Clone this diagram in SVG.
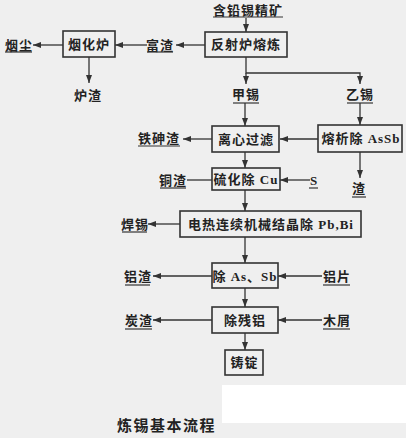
<svg xmlns="http://www.w3.org/2000/svg" width="406" height="438" viewBox="0 0 406 438">
<style>
.t{font-family:"Liberation Serif","Noto Sans CJK SC",serif;font-size:13px;font-weight:bold;fill:#222;text-anchor:middle;letter-spacing:1px}
.b{fill:none;stroke:#333;stroke-width:1.6}
.c line,.c polyline{fill:none;stroke:#333;stroke-width:1.3}
.u{stroke:#333;stroke-width:1.2}
.ttl{font-family:"Noto Sans CJK SC",sans-serif;font-size:15px;font-weight:bold;fill:#222;letter-spacing:1.5px}
</style>
<defs>
<marker id="a" viewBox="0 0 8 6" refX="8" refY="3" markerWidth="8" markerHeight="6" markerUnits="userSpaceOnUse" orient="auto">
<path d="M0,0 L8,3 L0,6 z" fill="#333"/>
</marker>
</defs>
<rect width="406" height="438" fill="#efefef"/>
<rect x="222" y="385" width="184" height="38" fill="#ffffff"/>
<g class="c" id="connectors">
<line x1="246" y1="18" x2="246" y2="32" marker-end="url(#a)"/>
<line x1="205" y1="45" x2="176" y2="45" marker-end="url(#a)"/>
<line x1="147" y1="45" x2="115" y2="45" marker-end="url(#a)"/>
<line x1="63" y1="45" x2="33" y2="45" marker-end="url(#a)"/>
<line x1="89" y1="57" x2="89" y2="83" marker-end="url(#a)"/>
<polyline points="246,57 246,73 360,73 360,84" marker-end="url(#a)"/>
<line x1="246" y1="73" x2="246" y2="84" marker-end="url(#a)"/>
<line x1="245" y1="103" x2="245" y2="126" marker-end="url(#a)"/>
<line x1="360" y1="103" x2="360" y2="125" marker-end="url(#a)"/>
<line x1="318" y1="139" x2="280" y2="139" marker-end="url(#a)"/>
<line x1="212" y1="139" x2="183" y2="139" marker-end="url(#a)"/>
<line x1="360" y1="152" x2="360" y2="178" marker-end="url(#a)"/>
<line x1="245" y1="152" x2="245" y2="168" marker-end="url(#a)"/>
<line x1="310" y1="180" x2="280" y2="180" marker-end="url(#a)"/>
<line x1="212" y1="180" x2="187" y2="180"/>
<line x1="245" y1="190" x2="245" y2="211" marker-end="url(#a)"/>
<line x1="180" y1="224" x2="148" y2="224" marker-end="url(#a)"/>
<line x1="245" y1="237" x2="245" y2="263" marker-end="url(#a)"/>
<line x1="212" y1="276" x2="153" y2="276" marker-end="url(#a)"/>
<line x1="322" y1="276" x2="278" y2="276" marker-end="url(#a)"/>
<line x1="245" y1="288" x2="245" y2="307" marker-end="url(#a)"/>
<line x1="212" y1="320" x2="153" y2="320" marker-end="url(#a)"/>
<line x1="322" y1="320" x2="278" y2="320" marker-end="url(#a)"/>
<line x1="245" y1="333" x2="245" y2="350" marker-end="url(#a)"/>
</g>
<g id="n-ore"><text class="t" x="248" y="14.5">含铅锡精矿</text><line class="u" x1="213" y1="17" x2="283" y2="17"/></g>
<g id="n-fanshe"><rect class="b" x="205" y="32" width="82" height="25"/><text class="t" x="246" y="49">反射炉熔炼</text></g>
<g id="n-fuzha"><text class="t" x="160" y="49.5">富渣</text><line class="u" x1="147" y1="52" x2="173" y2="52"/></g>
<g id="n-yanhua"><rect class="b" x="63" y="31" width="52" height="26"/><text class="t" x="89" y="48.5">烟化炉</text></g>
<g id="n-yanchen"><text class="t" x="19" y="49.5">烟尘</text><line class="u" x1="5" y1="52" x2="32" y2="52"/></g>
<g id="n-luzha"><text class="t" x="88" y="99.5">炉渣</text></g>
<g id="n-jiaxi"><text class="t" x="246" y="99">甲锡</text><line class="u" x1="233" y1="103" x2="259" y2="103"/></g>
<g id="n-yixi"><text class="t" x="360" y="99">乙锡</text><line class="u" x1="347" y1="103" x2="373" y2="103"/></g>
<g id="n-lixin"><rect class="b" x="212" y="126" width="67" height="26"/><text class="t" x="246" y="143.5">离心过滤</text></g>
<g id="n-rongxi"><rect class="b" x="318" y="125" width="84" height="27"/><text class="t" x="361" y="143">熔析除 AsSb</text></g>
<g id="n-tieshen"><text class="t" x="159" y="142.5">铁砷渣</text><line class="u" x1="138" y1="146" x2="180" y2="146"/></g>
<g id="n-zha"><text class="t" x="359" y="192.5">渣</text><line class="u" x1="352" y1="197" x2="366" y2="197"/></g>
<g id="n-liuhua"><rect class="b" x="212" y="168" width="68" height="22"/><text class="t" x="246" y="184">硫化除 Cu</text></g>
<g id="n-s"><text class="t" x="314" y="184.5">S</text><line class="u" x1="309" y1="188" x2="318" y2="188"/></g>
<g id="n-tongzha"><text class="t" x="173" y="184.5">铜渣</text><line class="u" x1="160" y1="188" x2="186" y2="188"/></g>
<g id="n-dianre"><rect class="b" x="180" y="211" width="181" height="26"/><text class="t" x="271" y="228.5">电热连续机械结晶除 Pb,Bi</text></g>
<g id="n-hanxi"><text class="t" x="135" y="228.5">焊锡</text><line class="u" x1="122" y1="232" x2="147" y2="232"/></g>
<g id="n-chuassb"><rect class="b" x="212" y="263" width="66" height="25"/><text class="t" x="245" y="280.5">除 As、Sb</text></g>
<g id="n-lvzha"><text class="t" x="138" y="281">铝渣</text><line class="u" x1="125" y1="285" x2="150" y2="285"/></g>
<g id="n-lvpian"><text class="t" x="337" y="281">铝片</text><line class="u" x1="323" y1="285" x2="350" y2="285"/></g>
<g id="n-chucan"><rect class="b" x="212" y="307" width="66" height="26"/><text class="t" x="245" y="324.5">除残铝</text></g>
<g id="n-tanzha"><text class="t" x="139" y="325">炭渣</text><line class="u" x1="125" y1="329" x2="152" y2="329"/></g>
<g id="n-muxie"><text class="t" x="337" y="325">木屑</text><line class="u" x1="323" y1="329" x2="350" y2="329"/></g>
<g id="n-zhuding"><rect class="b" x="225" y="350" width="38" height="25"/><text class="t" x="244.5" y="367">铸锭</text></g>
<text class="ttl" x="117" y="431">炼锡基本流程</text>
</svg>
